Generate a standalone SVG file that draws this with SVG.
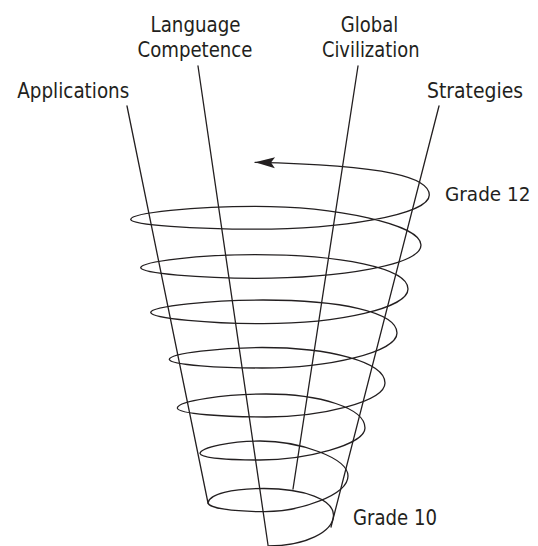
<svg xmlns="http://www.w3.org/2000/svg" width="538" height="546" viewBox="0 0 538 546">
  <style>
    .lbl { font-family: "DejaVu Sans", "Noto Sans", sans-serif; font-size: 20.5px; fill: #231f20; }
    .mid { text-anchor: middle; }
    .ln { stroke: #231f20; stroke-width: 1.3; fill: none; stroke-linecap: round; }
  </style>
  <defs>
    <marker id="arrow" markerUnits="userSpaceOnUse" viewBox="-22 -7 24 14" refX="0" refY="0" markerWidth="24" markerHeight="14" orient="auto" overflow="visible">
      <path d="M0,0 L-20,-5.5 L-16,0 L-20,5.5 Z" fill="#231f20"/>
    </marker>
  </defs>
  <rect width="538" height="546" fill="#ffffff"/>

  <g id="connectors">
    <line class="ln" x1="127" y1="106" x2="208" y2="503"/>
    <line class="ln" x1="198" y1="66" x2="268" y2="545"/>
    <line class="ln" x1="358" y1="66" x2="293" y2="489"/>
    <line class="ln" x1="439" y1="106" x2="331" y2="527"/>
  </g>

  <g id="spiral">
    <path class="ln" marker-end="url(#arrow)" d="M268,546
      C305,546 333.5,532 333.5,515
      C333.5,500 305,488.5 264,488.5
      C232,488.5 209,494 208,503
      C209,508 232,511.7 265,511.7
      C300,511.7 348,495 348,476
      C348,458 300,441 260,441
      C232,441 201,447 200,453.3
      C201,458 228,460 260,460
      C305,460 365,445 365,428
      C365,408 320,394 266,394
      C225,394 178,401 177.3,408
      C178,414 225,417 266,417
      C320,417 385,402 385,383
      C385,362 330,347.5 262,347.5
      C222,347.5 170,353 169.3,359.3
      C170,365 222,368 262,368
      C330,368 397,352 397,333
      C397,312 340,300 263,300
      C212,300 151.5,306 150.7,312.3
      C151.5,318.5 212,323.7 263,323.7
      C340,323.7 408,308 408,289
      C408,268 340,254.7 255,254.7
      C200,254.7 141.5,261.5 140.7,267.7
      C141.5,273.5 200,278.3 255,278.3
      C340,278.3 421,265 421,245
      C421,224 335,206.3 255,206.3
      C195,206.3 131.5,213 130.7,219.3
      C131.5,225 195,229.2 255,229.2
      C340,229.2 429.3,215 429.3,195
      C429.3,178 390,165 255,162.3"/>
  </g>

  <g id="applications"><text class="lbl mid" x="73.3" y="98" textLength="112" lengthAdjust="spacingAndGlyphs">Applications</text></g>
  <g id="language-competence">
    <text class="lbl mid" x="195.5" y="31.5" textLength="90" lengthAdjust="spacingAndGlyphs">Language</text>
    <text class="lbl mid" x="195" y="56.5" textLength="115" lengthAdjust="spacingAndGlyphs">Competence</text>
  </g>
  <g id="global-civilization">
    <text class="lbl mid" x="369.5" y="31.5" textLength="57.5" lengthAdjust="spacingAndGlyphs">Global</text>
    <text class="lbl mid" x="370.7" y="56.5" textLength="97.6" lengthAdjust="spacingAndGlyphs">Civilization</text>
  </g>
  <g id="strategies"><text class="lbl mid" x="475" y="98" textLength="96" lengthAdjust="spacingAndGlyphs">Strategies</text></g>
  <g id="grade-12"><text class="lbl" x="445" y="201" style="font-size:19.5px" textLength="85.5" lengthAdjust="spacingAndGlyphs">Grade 12</text></g>
  <g id="grade-10"><text class="lbl" x="353" y="525" textLength="84" lengthAdjust="spacingAndGlyphs">Grade 10</text></g>
</svg>
